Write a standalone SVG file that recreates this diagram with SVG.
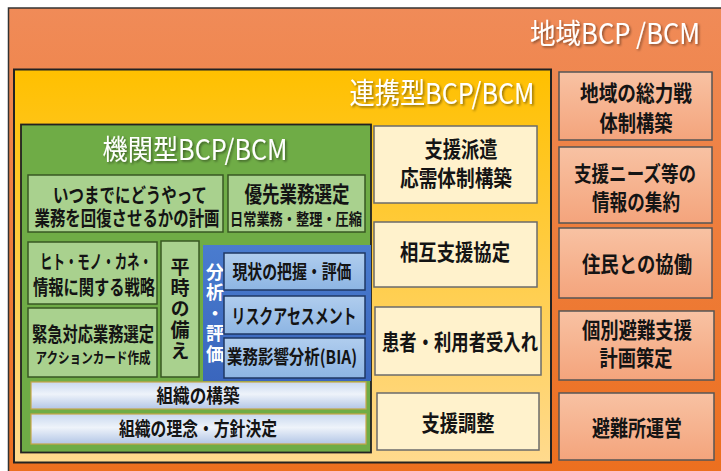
<svg xmlns="http://www.w3.org/2000/svg" width="721" height="471" viewBox="0 0 721 471">
<defs>
<linearGradient id="gOuter" x1="0" y1="0" x2="0" y2="1"><stop offset="0" stop-color="#f08b58"/><stop offset="1" stop-color="#ec6f1e"/></linearGradient>
<linearGradient id="gYellow" x1="0" y1="0" x2="0" y2="1"><stop offset="0" stop-color="#ffc000"/><stop offset="1" stop-color="#ffda8e"/></linearGradient>
<linearGradient id="gBluePanel" x1="0" y1="0" x2="0" y2="1"><stop offset="0" stop-color="#4a7ccf"/><stop offset="1" stop-color="#3a66bd"/></linearGradient>
<linearGradient id="gBlueBox" x1="0" y1="0" x2="0" y2="1"><stop offset="0" stop-color="#b0cdee"/><stop offset="1" stop-color="#8db5e3"/></linearGradient>
<linearGradient id="gBar" x1="0" y1="0" x2="0" y2="1"><stop offset="0" stop-color="#c8d8ef"/><stop offset="0.45" stop-color="#eef3fa"/><stop offset="1" stop-color="#b3c6e6"/></linearGradient>
<linearGradient id="gSalmon" x1="0" y1="0" x2="0" y2="1"><stop offset="0" stop-color="#f8c2a3"/><stop offset="1" stop-color="#f4a47c"/></linearGradient>
<filter id="shadow" x="-10%" y="-20%" width="130%" height="160%"><feDropShadow dx="1.5" dy="1.5" stdDeviation="0.8" flood-color="#000" flood-opacity="0.45"/></filter>
<style>
.t{font-family:"Noto Sans CJK JP","Noto Sans",sans-serif;font-weight:700;fill:#141414;text-anchor:middle}
.title{font-family:"Noto Sans CJK JP","Noto Sans",sans-serif;font-weight:400;fill:#fff;text-anchor:middle}
.v{font-family:"Noto Sans CJK JP",sans-serif;font-weight:700;writing-mode:vertical-rl;text-anchor:start}
.lg{fill:#a9d18e;stroke:#385723;stroke-width:1.5}
.bb{fill:url(#gBlueBox);stroke:#1f3864;stroke-width:1.5}
.bar{fill:url(#gBar);stroke:#c9a64a;stroke-width:1.2}
.cr{fill:#fff2cc;stroke:#6b6b6b;stroke-width:1.5}
.sa{fill:url(#gSalmon);stroke:#555;stroke-width:1.5}
</style>
</defs>

<g id="region">
<rect x="8.5" y="8" width="720" height="470" fill="url(#gOuter)" stroke="#333" stroke-width="1.5"/>
<text class="title" x="615" y="44" font-size="28" textLength="170" lengthAdjust="spacingAndGlyphs" filter="url(#shadow)">地域BCP /BCM</text>
</g>

<g id="cooperative">
<rect x="14" y="69.5" width="537" height="393" fill="url(#gYellow)" stroke="#222" stroke-width="2"/>
<text class="title" x="442" y="104" font-size="29" textLength="185" lengthAdjust="spacingAndGlyphs" filter="url(#shadow)">連携型BCP/BCM</text>
</g>

<g id="institutional">
<rect x="21" y="124.5" width="350" height="328" fill="#6fac46" stroke="#222" stroke-width="1.8"/>
<text class="title" x="195" y="160" font-size="28" textLength="185" lengthAdjust="spacingAndGlyphs" filter="url(#shadow)">機関型BCP/BCM</text>
</g>

<g id="plan">
<rect class="lg" x="28" y="175" width="195" height="57"/>
<text class="t" x="130" y="203" font-size="20" textLength="154" lengthAdjust="spacingAndGlyphs">いつまでにどうやって</text>
<text class="t" x="127" y="226" font-size="20" textLength="185" lengthAdjust="spacingAndGlyphs">業務を回復させるかの計画</text>
</g>

<g id="priority">
<rect class="lg" x="228" y="175" width="137" height="57"/>
<text class="t" x="297" y="202" font-size="22" textLength="105" lengthAdjust="spacingAndGlyphs">優先業務選定</text>
<text class="t" x="296" y="225" font-size="16" textLength="132" lengthAdjust="spacingAndGlyphs">日常業務・整理・圧縮</text>
</g>

<g id="strategy">
<rect class="lg" x="28" y="242" width="129" height="62"/>
<text class="t" x="96" y="269" font-size="19" textLength="112" lengthAdjust="spacingAndGlyphs">ヒト・モノ・カネ・</text>
<text class="t" x="94" y="295" font-size="20" textLength="122" lengthAdjust="spacingAndGlyphs">情報に関する戦略</text>
</g>

<g id="emergency">
<rect class="lg" x="28" y="308" width="129" height="69"/>
<text class="t" x="93" y="342" font-size="20" textLength="122" lengthAdjust="spacingAndGlyphs">緊急対応業務選定</text>
<text class="t" x="93" y="363" font-size="15" textLength="115" lengthAdjust="spacingAndGlyphs">アクションカード作成</text>
</g>

<g id="preparedness">
<rect class="lg" x="161" y="241" width="38" height="136"/>
<text class="v" x="180" y="257" font-size="19" fill="#141414" textLength="103" lengthAdjust="spacing">平時の備え</text>
</g>

<g id="analysis">
<rect x="203" y="245" width="168" height="136" fill="url(#gBluePanel)"/>
<text class="v" x="215" y="263" font-size="18" fill="#fff" textLength="100" lengthAdjust="spacing">分析・評価</text>
</g>

<g id="assessment-status">
<rect class="bb" x="224" y="253" width="141" height="37"/>
<text class="t" x="292" y="278.5" font-size="19" textLength="119" lengthAdjust="spacingAndGlyphs">現状の把握・評価</text>
</g>

<g id="risk-assessment">
<rect class="bb" x="224" y="296" width="141" height="38"/>
<text class="t" x="294" y="324" font-size="20" textLength="125" lengthAdjust="spacingAndGlyphs">リスクアセスメント</text>
</g>

<g id="bia">
<rect class="bb" x="224" y="338" width="141" height="40"/>
<text class="t" x="292" y="364" font-size="19" textLength="130" lengthAdjust="spacingAndGlyphs">業務影響分析(BIA)</text>
</g>

<g id="organization">
<rect class="bar" x="31" y="382" width="335" height="27"/>
<text class="t" x="198" y="403" font-size="19" textLength="83" lengthAdjust="spacingAndGlyphs">組織の構築</text>
</g>

<g id="philosophy">
<rect class="bar" x="31" y="414" width="335" height="30"/>
<text class="t" x="198" y="436" font-size="19" textLength="158" lengthAdjust="spacingAndGlyphs">組織の理念・方針決定</text>
</g>

<g id="dispatch">
<rect class="cr" x="374" y="126" width="163" height="77"/>
<text class="t" x="461" y="157" font-size="22" textLength="73" lengthAdjust="spacingAndGlyphs">支援派遣</text>
<text class="t" x="456" y="186" font-size="22" textLength="112" lengthAdjust="spacingAndGlyphs">応需体制構築</text>
</g>

<g id="mutual-aid">
<rect class="cr" x="374" y="222" width="163" height="65"/>
<text class="t" x="455" y="260" font-size="22" textLength="110" lengthAdjust="spacingAndGlyphs">相互支援協定</text>
</g>

<g id="patients">
<rect class="cr" x="375" y="307" width="166" height="68"/>
<text class="t" x="460" y="350" font-size="22" textLength="156" lengthAdjust="spacingAndGlyphs">患者・利用者受入れ</text>
</g>

<g id="coordination">
<rect class="cr" x="377" y="393" width="162" height="57"/>
<text class="t" x="458" y="431" font-size="22" textLength="73" lengthAdjust="spacingAndGlyphs">支援調整</text>
</g>

<g id="total-system">
<rect class="sa" x="559" y="72" width="153" height="68"/>
<text class="t" x="636" y="101" font-size="22" textLength="112" lengthAdjust="spacingAndGlyphs">地域の総力戦</text>
<text class="t" x="636" y="131" font-size="22" textLength="73" lengthAdjust="spacingAndGlyphs">体制構築</text>
</g>

<g id="needs-info">
<rect class="sa" x="559" y="147" width="153" height="76"/>
<text class="t" x="635" y="181" font-size="21" textLength="122" lengthAdjust="spacingAndGlyphs">支援ニーズ等の</text>
<text class="t" x="636" y="210" font-size="22" textLength="88" lengthAdjust="spacingAndGlyphs">情報の集約</text>
</g>

<g id="residents">
<rect class="sa" x="559" y="228" width="153" height="70"/>
<text class="t" x="637" y="272" font-size="22" textLength="110" lengthAdjust="spacingAndGlyphs">住民との協働</text>
</g>

<g id="individual-evac">
<rect class="sa" x="559" y="311" width="155" height="69"/>
<text class="t" x="637" y="338" font-size="22" textLength="110" lengthAdjust="spacingAndGlyphs">個別避難支援</text>
<text class="t" x="636" y="366" font-size="22" textLength="73" lengthAdjust="spacingAndGlyphs">計画策定</text>
</g>

<g id="shelter">
<rect class="sa" x="559" y="393" width="155" height="67"/>
<text class="t" x="637" y="436" font-size="22" textLength="90" lengthAdjust="spacingAndGlyphs">避難所運営</text>
</g>

<g id="connectors"></g>
</svg>
